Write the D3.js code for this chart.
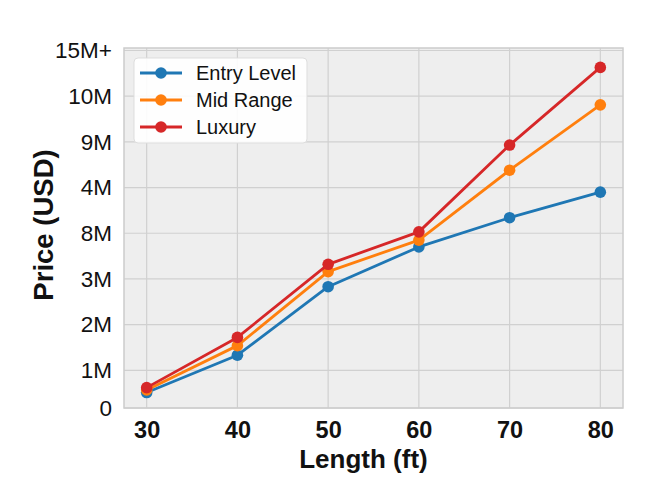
<!DOCTYPE html>
<html><head><meta charset="utf-8">
<script src="https://cdn.jsdelivr.net/npm/d3@7"></script>
<style>body{margin:0;background:#fff}svg{display:block}</style>
</head><body><svg id="c" width="667" height="500"></svg>
<script>
const lengths = [30, 40, 50, 60, 70, 80];
const entryLevel = [0.41, 1.33, 2.83, 3.70, 4.34, 4.90];
const midRange   = [0.48, 1.54, 3.16, 3.85, 5.38, 6.81];
const luxury     = [0.54, 1.72, 3.32, 4.03, 5.93, 7.63];
const seriesNames = ["Entry Level", "Mid Range", "Luxury"];
const seriesColors = ["#1f77b4", "#ff7f0e", "#d62728"];
const yTickValues = [0, 1, 2, 3, 4, 5, 6, 7, 8];
const yTickLabels = ["0", "1M", "2M", "3M", "8M", "4M", "9M", "10M", "15M+"];
const xTickValues = [30, 40, 50, 60, 70, 80];

const series = [entryLevel, midRange, luxury];
const FONT = "Liberation Sans, Arial, sans-serif";
const svg = d3.select("#c");
const m = {l:124, t:48, r:44, b:92};
const W = 667 - m.l - m.r, H = 500 - m.t - m.b;
const g = svg.append("g").attr("transform", `translate(${m.l},${m.t})`);

const x = d3.scaleLinear().domain([27.5, 82.5]).range([0, W]);
const y = d3.scaleLinear().domain([0, 1, 8]).range([H, H - 37.7, 2.5]);

g.append("rect").attr("width", W).attr("height", H).attr("fill", "#eeeeee");

// grid
g.selectAll(".gx").data(xTickValues).enter().append("line")
  .attr("x1", d => x(d)).attr("x2", d => x(d)).attr("y1", 0).attr("y2", H)
  .attr("stroke", "#d0d0d0").attr("stroke-width", 1.2);
g.selectAll(".gy").data(yTickValues).enter().append("line")
  .attr("y1", d => y(d)).attr("y2", d => y(d)).attr("x1", 0).attr("x2", W)
  .attr("stroke", "#d0d0d0").attr("stroke-width", 1.2);

g.append("rect").attr("width", W).attr("height", H).attr("fill", "none")
  .attr("stroke", "#cccccc").attr("stroke-width", 1.5);

// axes
const yAxis = d3.axisLeft(y).tickValues(yTickValues).tickFormat((d, i) => yTickLabels[i]).tickSize(0).tickPadding(12);
const ya = g.append("g").call(yAxis);
ya.select(".domain").remove();
ya.selectAll("text").attr("font-family", FONT).attr("font-size", 22.5).attr("fill", "#111");

const xAxis = d3.axisBottom(x).tickValues(xTickValues).tickFormat(d3.format("d")).tickSize(0).tickPadding(13);
const xa = g.append("g").attr("transform", `translate(0,${H})`).call(xAxis);
xa.select(".domain").remove();
xa.selectAll("text").attr("font-family", FONT).attr("font-size", 23.5).attr("font-weight", "bold").attr("fill", "#111");

svg.append("text").attr("x", m.l + W/2 - 10).attr("y", 468).attr("text-anchor", "middle")
  .attr("font-family", FONT).attr("font-size", 26).attr("font-weight", "bold").attr("fill", "#111")
  .text("Length (ft)");
svg.append("text").attr("transform", `translate(53,225) rotate(-90)`).attr("text-anchor", "middle")
  .attr("font-family", FONT).attr("font-size", 27.5).attr("font-weight", "bold").attr("fill", "#111")
  .text("Price (USD)");

// lines
const line = d3.line().x((d, i) => x(lengths[i])).y(d => y(d));
series.forEach((s, k) => {
  g.append("path").datum(s).attr("d", line).attr("fill", "none")
    .attr("stroke", seriesColors[k]).attr("stroke-width", 2.8).attr("stroke-linejoin", "round");
  g.selectAll(".p" + k).data(s).enter().append("circle")
    .attr("cx", (d, i) => x(lengths[i])).attr("cy", d => y(d)).attr("r", 5.8)
    .attr("fill", seriesColors[k]);
});

// legend
const lg = g.append("g").attr("transform", "translate(10,10)");
lg.append("rect").attr("width", 173).attr("height", 85).attr("rx", 4)
  .attr("fill", "#ffffff").attr("fill-opacity", 0.9).attr("stroke", "#dddddd");
seriesNames.forEach((n, k) => {
  const yy = 15 + k * 27;
  lg.append("line").attr("x1", 6).attr("x2", 48).attr("y1", yy).attr("y2", yy)
    .attr("stroke", seriesColors[k]).attr("stroke-width", 2.8);
  lg.append("circle").attr("cx", 27).attr("cy", yy).attr("r", 5.8).attr("fill", seriesColors[k]);
  lg.append("text").attr("x", 62).attr("y", yy).attr("dy", "0.35em")
    .attr("font-family", FONT).attr("font-size", 20).attr("fill", "#111").text(n);
});
</script></body></html>
